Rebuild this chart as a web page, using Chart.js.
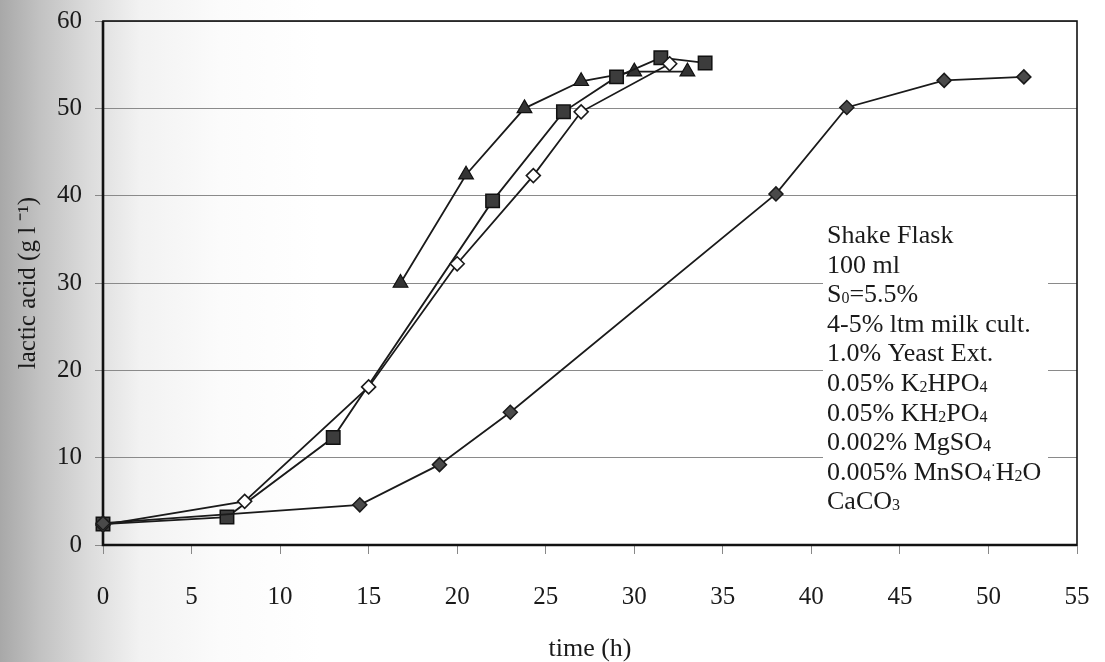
<!DOCTYPE html>
<html>
<head>
<meta charset="utf-8">
<script src="https://cdn.jsdelivr.net/npm/chart.js@4/dist/chart.umd.min.js"></script>
<style>
  html, body { margin: 0; padding: 0; }
  body {
    width: 1105px; height: 662px; overflow: hidden;
    background: linear-gradient(to right, #a8a8a8 0px, #c2c2c2 40px, #dcdcdc 90px, #f2f2f2 140px, #fbfbfb 220px, #ffffff 320px);
  }
  #wrap { position: relative; width: 1105px; height: 662px; }
</style>
</head>
<body>
<div id="wrap"><canvas id="c" width="1105" height="662"></canvas></div>
<script>
// ---- data ----
const xTicks = [0, 5, 10, 15, 20, 25, 30, 35, 40, 45, 50, 55];
const yTicks = [0, 10, 20, 30, 40, 50, 60];

const diamondX = [0, 14.5, 19, 23, 38, 42, 47.5, 52];
const diamondY = [2.5, 4.6, 9.2, 15.2, 40.2, 50.1, 53.2, 53.6];

const openDiamondX = [0, 8, 15, 20, 24.3, 27, 32];
const openDiamondY = [2.3, 5.0, 18.1, 32.2, 42.3, 49.6, 55.1];

const squareX = [0, 7, 13, 22, 26, 29, 31.5, 34];
const squareY = [2.4, 3.2, 12.3, 39.4, 49.6, 53.6, 55.8, 55.2];

const triangleX = [16.8, 20.5, 23.8, 27, 30, 33];
const triangleY = [30.0, 42.4, 50.0, 53.1, 54.2, 54.2];

// annotation lines: segments [text, kind] (0 normal, 1 subscript, 2 raised dot)
const noteLines = [
  [["Shake Flask", 0]],
  [["100 ml", 0]],
  [["S", 0], ["0", 1], ["=5.5%", 0]],
  [["4-5% ltm milk cult.", 0]],
  [["1.0% Yeast Ext.", 0]],
  [["0.05% K", 0], ["2", 1], ["HPO", 0], ["4", 1]],
  [["0.05% KH", 0], ["2", 1], ["PO", 0], ["4", 1]],
  [["0.002% MgSO", 0], ["4", 1]],
  [["0.005% MnSO", 0], ["4", 1], ["·", 2], ["H", 0], ["2", 1], ["O", 0]],
  [["CaCO", 0], ["3", 1]]
];

const toPts = (xs, ys) => xs.map((x, i) => ({ x: x, y: ys[i] }));
const SERIF = "'Liberation Serif', 'Times New Roman', serif";

const framePlugin = {
  id: 'frame',
  beforeDatasetsDraw(chart) {
    const { ctx, chartArea: a } = chart;
    ctx.save();
    // white box behind annotation (interrupts gridlines)
    ctx.fillStyle = '#ffffff';
    ctx.fillRect(823, 222, 225, 296);
    // plot frame
    ctx.strokeStyle = '#111';
    ctx.lineWidth = 1.6;
    ctx.strokeRect(a.left, a.top, a.right - a.left, a.bottom - a.top);
    ctx.lineWidth = 2.6;
    ctx.beginPath();
    ctx.moveTo(a.left, a.top);
    ctx.lineTo(a.left, a.bottom);
    ctx.lineTo(a.right, a.bottom);
    ctx.stroke();
    // annotation text
    ctx.fillStyle = '#1a1a1a';
    ctx.textBaseline = 'alphabetic';
    ctx.textAlign = 'left';
    const x0 = 827, y0 = 243, lh = 29.6;
    noteLines.forEach((segs, i) => {
      let x = x0;
      const y = y0 + i * lh;
      segs.forEach(([t, sub]) => {
        if (sub === 1) {
          ctx.font = '16px ' + SERIF;
          ctx.fillText(t, x, y + 1);
        } else if (sub === 2) {
          ctx.font = '14px ' + SERIF;
          ctx.fillText(t, x, y - 10);
        } else {
          ctx.font = '26px ' + SERIF;
          ctx.fillText(t, x, y);
        }
        x += ctx.measureText(t).width;
      });
    });
    ctx.restore();
  }
};

new Chart(document.getElementById('c'), {
  type: 'scatter',
  data: {
    datasets: [
      {
        label: 'filled diamond',
        data: toPts(diamondX, diamondY),
        showLine: true,
        borderColor: '#1a1a1a', borderWidth: 1.8,
        pointStyle: 'rectRot', pointRadius: 7,
        pointBackgroundColor: '#4a4a4a', pointBorderColor: '#1a1a1a', pointBorderWidth: 1.5,
        clip: false
      },
      {
        label: 'open diamond',
        data: toPts(openDiamondX, openDiamondY),
        showLine: true,
        borderColor: '#1a1a1a', borderWidth: 1.8,
        pointStyle: 'rectRot', pointRadius: 7,
        pointBackgroundColor: '#ffffff', pointBorderColor: '#1a1a1a', pointBorderWidth: 1.6,
        clip: false
      },
      {
        label: 'square',
        data: toPts(squareX, squareY),
        showLine: true,
        borderColor: '#1a1a1a', borderWidth: 1.8,
        pointStyle: 'rect', pointRadius: 9.5,
        pointBackgroundColor: '#3c3c3c', pointBorderColor: '#111', pointBorderWidth: 1.5,
        clip: false
      },
      {
        label: 'triangle',
        data: toPts(triangleX, triangleY),
        showLine: true,
        borderColor: '#1a1a1a', borderWidth: 1.8,
        pointStyle: 'triangle', pointRadius: 8.5,
        pointBackgroundColor: '#333', pointBorderColor: '#111', pointBorderWidth: 1.2,
        clip: false
      }
    ]
  },
  options: {
    responsive: false,
    animation: false,
    events: [],
    layout: { padding: { left: 0, right: 28, top: 21, bottom: 0 } },
    plugins: { legend: { display: false }, tooltip: { enabled: false } },
    elements: { line: { tension: 0 } },
    scales: {
      x: {
        type: 'linear', min: 0, max: 55,
        afterBuildTicks: s => { s.ticks = xTicks.map(v => ({ value: v })); },
        afterFit: s => { s.height = 117; s.paddingLeft = 0; s.paddingRight = 0; },
        grid: { drawOnChartArea: false, drawTicks: true, tickLength: 9, tickColor: '#888', color: '#888' },
        border: { display: false },
        ticks: { color: '#1a1a1a', font: { family: SERIF, size: 25 }, padding: 28, maxRotation: 0 },
        title: { display: true, text: 'time (h)', color: '#1a1a1a', font: { family: SERIF, size: 26, lineHeight: 1 }, padding: { top: 0, bottom: 0 } }
      },
      y: {
        type: 'linear', min: 0, max: 60,
        afterBuildTicks: s => { s.ticks = yTicks.map(v => ({ value: v })); },
        afterFit: s => { s.width = 103; s.paddingTop = 0; s.paddingBottom = 0; },
        grid: { color: '#8a8a8a', lineWidth: 1, drawTicks: true, tickLength: 8, tickColor: '#888' },
        border: { display: false },
        ticks: { color: '#1a1a1a', font: { family: SERIF, size: 25 }, padding: 13 },
        title: { display: true, text: 'lactic acid (g l \u207B\u00B9)', color: '#1a1a1a', font: { family: SERIF, size: 25, lineHeight: 1 }, padding: { top: 16, bottom: 0 } }
      }
    }
  },
  plugins: [framePlugin]
});
</script>
</body>
</html>
